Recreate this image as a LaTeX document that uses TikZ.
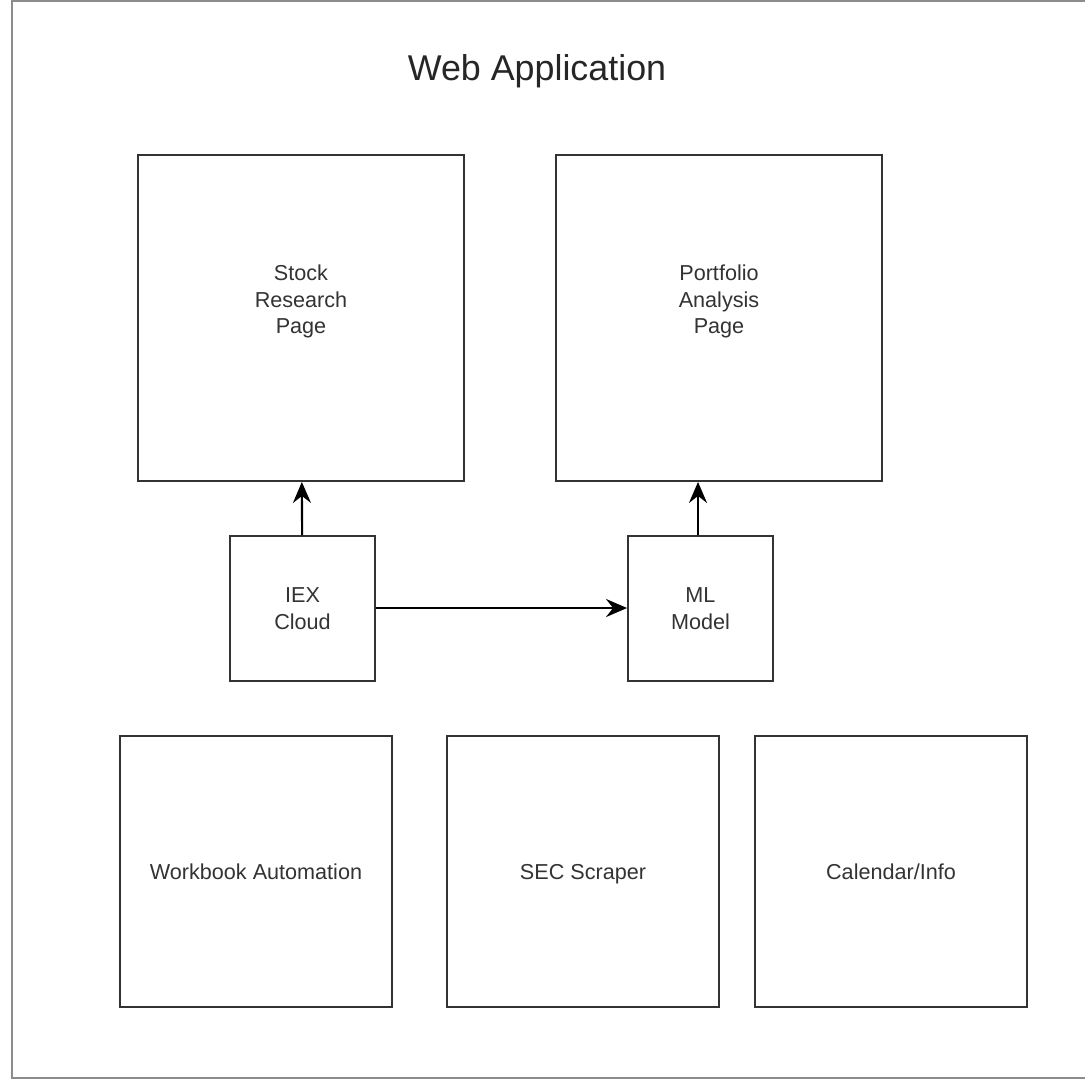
\documentclass[tikz,border=0pt]{standalone}
\usepackage{fontspec}
\setmainfont{Liberation Sans}
\usetikzlibrary{arrows.meta,positioning}

\tikzset{
  block/.style={draw=black!80, line width=1.1pt, fill=white, text=black!80,
    font=\fontsize{12.3}{15.2}\selectfont, align=center, inner sep=0pt},
  bigblock/.style={block, minimum width=6.52cm, minimum height=6.52cm},
  smallblock/.style={block, minimum width=2.9cm, minimum height=2.9cm},
  toolblock/.style={block, minimum width=5.44cm, minimum height=5.42cm, text depth=0pt},
  pagelabel/.style={text=black!80, font=\fontsize{12.3}{15.2}\selectfont, align=center, yshift=0.33cm},
  flowarrow/.style={black, line width=1.2pt, -{Stealth[length=4.2mm,width=3.6mm,inset=1.4mm]}}
}

\begin{document}
\begin{tikzpicture}[x=0.02cm, y=-0.02cm]
  \useasboundingbox (0,0) rectangle (1085,1080);
  % frame of the page
  \draw[black!45, line width=0.6pt] (1085,1) -- (12,1) -- (12,1078) -- (1085,1078);
  \node[text=black!85, font=\fontsize{20.4}{24}\selectfont] (title) at (537,71) {Web Application};
  % pages
  \node[bigblock, label={[pagelabel]center:{Stock\\Research\\Page}}] (stock) at (301,318) {};
  \node[bigblock, label={[pagelabel]center:{Portfolio\\Analysis\\Page}}] (portfolio) at (719,318) {};
  % data
  \node[smallblock] (iex) at (302.5,608.5) {IEX\\Cloud};
  \node[smallblock] (ml) at (700.5,608.5) {ML\\Model};
  % tools
  \node[toolblock] (workbook) at (256,871.5) {Workbook Automation};
  \node[toolblock] (sec) at (583,871.5) {SEC Scraper};
  \node[toolblock] (calendar) at (891,871.5) {Calendar/Info};
  \draw[flowarrow] (iex) -- (stock);
  \draw[flowarrow] ([xshift=-0.05cm]ml.north) -- ([xshift=-0.05cm]ml.north |- portfolio.south);
  \draw[flowarrow] ([yshift=0.01cm]iex.east) -- ([yshift=0.01cm]ml.west);
\end{tikzpicture}
\end{document}
